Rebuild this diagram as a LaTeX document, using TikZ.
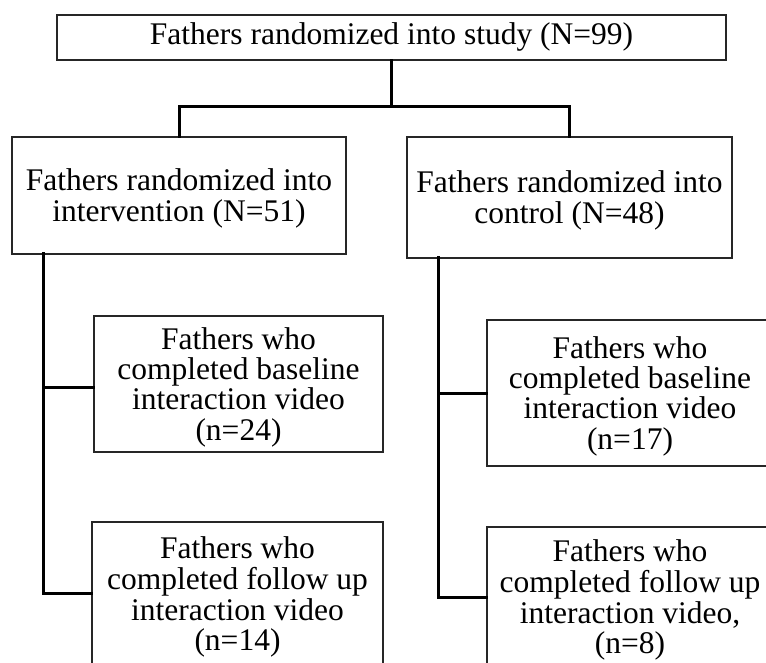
\documentclass[tikz,border=0pt]{standalone}
\usepackage{fontspec}
\setmainfont{Liberation Serif}
\newcommand\boxtext[1]{{\fontsize{31.5}{28.5}\selectfont\begin{tabular}{@{}c@{}}#1\end{tabular}}}
\newcommand\lowtext[1]{\raisebox{-4pt}[\height][\depth]{\boxtext{#1}}}
\newcommand\hightext[1]{\raisebox{4pt}[\height][\depth]{\boxtext{#1}}}
\begin{document}
\begin{tikzpicture}[x=1pt,y=-1pt,
  box/.style={draw=black!85, line width=1.1pt, rectangle, inner sep=0pt, align=center},
  conn/.style={line width=3pt, black, line cap=rect}]
\useasboundingbox (0,0) rectangle (766,663);
% boxes
\node[box, minimum width=669pt, minimum height=45pt] (top) at (391.5,37.5) {\boxtext{Fathers randomized into study (N=99)}};
\node[box, minimum width=334pt, minimum height=117pt] (interv) at (179,195.5) {\lowtext{Fathers randomized into\\intervention (N=51)}};
\node[box, minimum width=325pt, minimum height=121pt] (ctrl) at (569.5,197.5) {\lowtext{Fathers randomized into\\control (N=48)}};
\node[box, minimum width=289pt, minimum height=136pt] (baseL) at (238.5,384) {\lowtext{Fathers who\\completed baseline\\interaction video\\(n=24)}};
\node[box, minimum width=286pt, minimum height=146pt] (baseR) at (630,393) {\lowtext{Fathers who\\completed baseline\\interaction video\\(n=17)}};
\node[box, minimum width=291pt, minimum height=152pt] (fuL) at (237.5,598) {\boxtext{Fathers who\\completed follow up\\interaction video\\(n=14)}};
\node[box, minimum width=286pt, minimum height=156pt] (fuR) at (630,605) {\hightext{Fathers who\\completed follow up\\interaction video,\\(n=8)}};
% trunk coordinates
\coordinate (split) at (391.5,107);
\coordinate (ltrunk) at (43,254);
\coordinate (rtrunk) at (438,258);
% connectors
\draw[conn] (top.south) -- (split);
\draw[conn] (interv.north) |- (split) -| (ctrl.north);
\draw[conn] (ltrunk) -- (ltrunk |- 0,593) -- (fuL.west |- 0,593);
\draw[conn] (ltrunk |- 0,387) -- (baseL.west |- 0,387);
\draw[conn] (rtrunk) -- (rtrunk |- 0,597) -- (fuR.west |- 0,597);
\draw[conn] (rtrunk |- 0,393) -- (baseR.west |- 0,393);
\end{tikzpicture}
\end{document}
